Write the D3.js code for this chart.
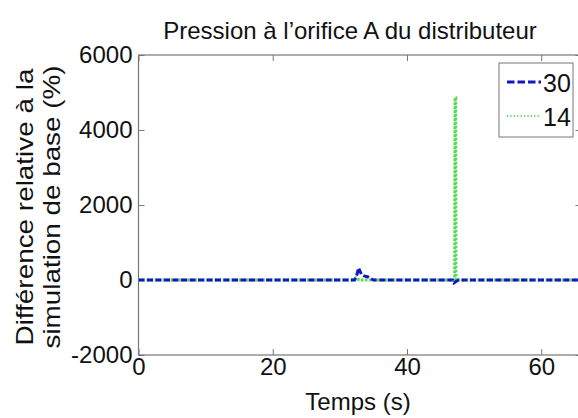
<!DOCTYPE html>
<html lang="fr">
<head>
    <meta charset="UTF-8">
    <title>Pression à l'orifice A</title>
    <script src="https://cdn.jsdelivr.net/npm/d3@7"></script>
    <style>
        body{ margin: 0; background: #fff; }
        text{ font-family: "Liberation Sans", Arial, sans-serif; fill: #111; }
    </style>
</head>
<body>
    <svg id="main-svg" width="578" height="418"></svg>

    <script>
        // data
        const time30 = [0, 10, 20, 32.2, 32.5, 32.8, 33.2, 33.6, 34.2, 35.0, 46.8, 47.0, 47.3, 47.7, 56, 66];
        const val30  = [0, 0, 0, 0, 120, 320, 150, 110, 80, 0, 0, -80, -40, 0, 0, 0];
        const time14 = [0, 10, 20, 32.0, 32.4, 32.9, 46.9, 47.1, 47.15, 47.25, 47.3, 56, 66];
        const val14  = [0, 0, 0, 0, 60, 0, 0, -60, 4860, 4860, 0, 0, 0];
        const seriesNames = ['30', '14'];
        const xTicks = [0, 20, 40, 60];
        const yTicks = [-2000, 0, 2000, 4000, 6000];

        const pLeft = 138.5, pTop = 55, pRight = 581.5, pBottom = 355;
        let svg = d3.select('#main-svg');

        let x = d3.scaleLinear().domain([0, 66]).range([pLeft, pRight]);
        let y = d3.scaleLinear().domain([-2000, 6000]).range([pBottom, pTop]);

        svg.append('defs').append('clipPath').attr('id', 'clip')
            .append('rect')
            .attr('x', pLeft).attr('y', pTop)
            .attr('width', pRight - pLeft).attr('height', pBottom - pTop);

        // frame
        svg.append('rect')
            .attr('x', pLeft).attr('y', pTop)
            .attr('width', pRight - pLeft).attr('height', pBottom - pTop)
            .style('fill', '#fff').style('stroke', '#777').style('stroke-width', 1.2);

        let axisStyle = g => {
            g.select('.domain').remove();
            g.selectAll('.tick line').style('stroke', '#777');
            g.selectAll('.tick text').style('font-size', '24px')
                .style('font-family', '"Liberation Sans", Arial, sans-serif').style('fill', '#111');
        };
        let fmt = d => String(d);

        svg.append('g').attr('transform', `translate(0,${pBottom})`)
            .call(d3.axisBottom(x).tickValues(xTicks).tickSizeInner(-6).tickPadding(3).tickFormat(fmt))
            .call(axisStyle);
        svg.append('g').attr('transform', `translate(0,${pTop})`)
            .call(d3.axisTop(x).tickValues(xTicks).tickSizeInner(-6).tickFormat(''))
            .call(axisStyle);
        svg.append('g').attr('transform', `translate(${pLeft},0)`)
            .call(d3.axisLeft(y).tickValues(yTicks).tickSizeInner(-6).tickPadding(6).tickFormat(fmt))
            .call(axisStyle);
        svg.append('g').attr('transform', `translate(${pRight},0)`)
            .call(d3.axisRight(y).tickValues(yTicks).tickSizeInner(-6).tickFormat(''))
            .call(axisStyle);

        let line = d3.line().x(d => x(d[0])).y(d => y(d[1]));
        let plot = svg.append('g').attr('clip-path', 'url(#clip)');

        plot.append('path')
            .datum(d3.zip(time14, val14))
            .attr('d', line)
            .style('fill', 'none').style('stroke', '#55dd55')
            .style('stroke-width', 3).style('stroke-dasharray', '2.5,1.5');

        plot.append('path')
            .datum(d3.zip(time30, val30))
            .attr('d', line)
            .style('fill', 'none').style('stroke', '#1515c8')
            .style('stroke-width', 3).style('stroke-dasharray', '6,2.5');

        // legend
        let lg = svg.append('g').attr('transform', 'translate(499,63)');
        lg.append('rect').attr('width', 74).attr('height', 74)
            .style('fill', '#fff').style('stroke', '#777').style('stroke-width', 1);
        let styles = [
            {stroke: '#1515c8', dash: '7.5,3', w: 3},
            {stroke: '#55dd55', dash: '1.2,2.2', w: 2}
        ];
        seriesNames.forEach((n, i) => {
            let yy = 19 + i * 34;
            lg.append('line').attr('x1', 8).attr('x2', 42).attr('y1', yy).attr('y2', yy)
                .style('stroke', styles[i].stroke).style('stroke-width', styles[i].w)
                .style('stroke-dasharray', styles[i].dash);
            lg.append('text').attr('x', 44).attr('y', yy + 10).text(n).style('font-size', '25px');
        });

        // titles
        svg.append('text').attr('x', 350).attr('y', 39).attr('text-anchor', 'middle')
            .style('font-size', '24px').text('Pression à l’orifice A du distributeur');
        svg.append('text').attr('x', 358).attr('y', 410).attr('text-anchor', 'middle')
            .style('font-size', '24px').text('Temps (s)');

        let yl = svg.append('text').attr('transform', 'translate(0,207) rotate(-90)')
            .attr('text-anchor', 'middle').style('font-size', '24px');
        yl.append('tspan').attr('x', 0).attr('y', 33)
            .attr('textLength', 277).attr('lengthAdjust', 'spacingAndGlyphs')
            .text('Différence relative à la');
        yl.append('tspan').attr('x', 0).attr('y', 60)
            .attr('textLength', 283).attr('lengthAdjust', 'spacingAndGlyphs')
            .text('simulation de base (%)');
    </script>
</body>
</html>
